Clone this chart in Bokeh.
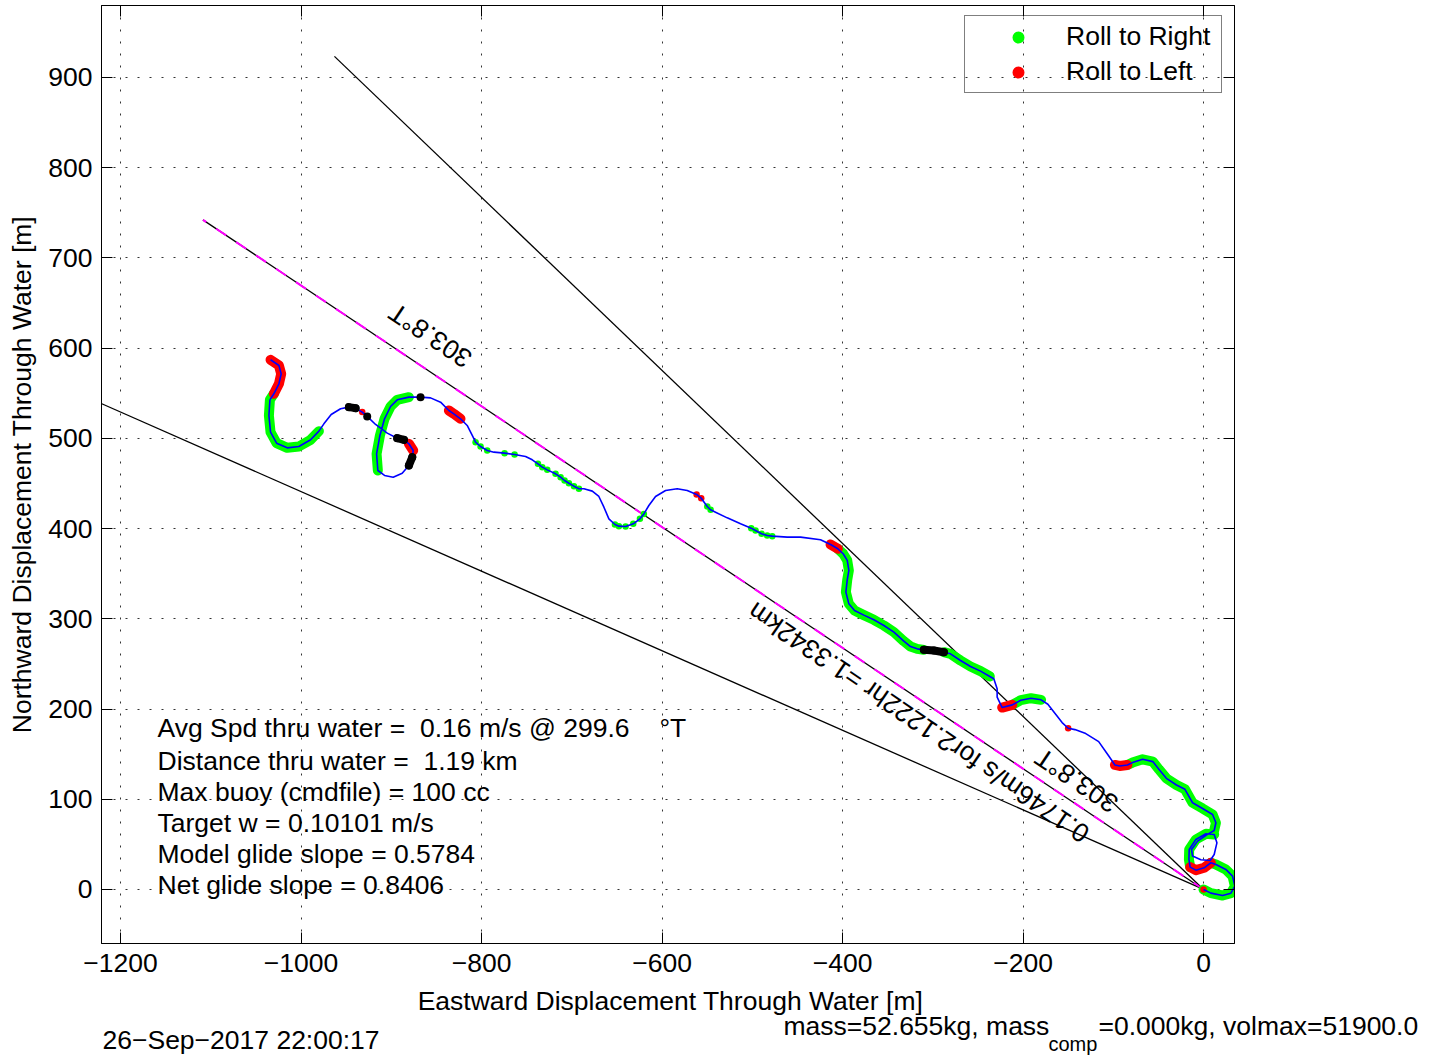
import numpy as np
from bokeh.plotting import figure
from bokeh.layouts import column
from bokeh.models import (Range1d, FixedTicker, LinearAxis, Label, Legend, LegendItem)
from bokeh.embed import file_html
from bokeh.resources import INLINE

FONT = "Liberation Sans"
FS = "26.5px"

# ---------------- data (metres, origin = dive start) ----------------
x_ticks = [-1200, -1000, -800, -600, -400, -200, 0]
x_tick_labels = ["\u22121200", "\u22121000", "\u2212800", "\u2212600", "\u2212400", "\u2212200", "0"]
y_ticks = [0, 100, 200, 300, 400, 500, 600, 700, 800, 900]
y_tick_labels = ["0", "100", "200", "300", "400", "500", "600", "700", "800", "900"]

track_x = [
    0, 8.1, 21.1, 30.3, 34.7, 32.1, 24.7, 13.7, 8.1, 0.7,
    -8.5, -14.8, -16.2, -15.9, -8.5, 2.6, 11.8, 14.8, 11.8, 7.4,
    -3.0, -12.2, -13.3, -6.6, 4.4, 11.8, 13.7, 10.0, -1.1, -12.2,
    -20.6, -30.0, -41.2, -49.5, -56.2, -67.5, -78.7, -84.4, -93.0, -98.2,
    -105.0, -116.2, -130.5, -142.5, -150.0, -156.7, -172.5, -180.0, -191.2, -202.5,
    -211.9, -223.1, -228.7, -228.7, -232.4, -236.8, -247.1, -258.2, -269.3, -280.4,
    -287.7, -298.8, -309.9, -317.3, -324.7, -332.1, -343.1, -354.2, -365.3, -376.4,
    -386.7, -393.0, -396.3, -394.8, -393.0, -394.8, -399.3, -405.2, -413.3, -424.4,
    -446.5, -461.3, -477.9, -483.5, -489.7, -496.4, -501.2, -513.0, -527.8, -540.7,
    -546.2, -549.9, -556.6, -561.7, -572.1, -583.2, -596.1, -607.2, -614.6, -620.1,
    -624.5, -631.9, -640.4, -647.8, -652.2, -658.9, -664.4, -670.0, -677.3, -686.6,
    -692.1, -697.6, -703.2, -708.0, -712.4, -718.0, -727.2, -732.7, -737.5, -743.8,
    -751.2, -763.4, -774.5, -786.3, -793.7, -801.1, -806.6, -810.3, -815.9, -823.3,
    -830.7, -836.2, -845.4, -856.5, -867.6, -880.5, -893.4, -900.8, -907.5, -912.6,
    -916.3, -914.9, -907.5, -897.9, -887.9, -880.5, -876.8, -875.7, -880.5, -886.0,
    -893.4, -904.5, -917.4, -926.7, -932.2, -939.6, -947.0, -956.2, -966.6, -974.7,
    -980.2, -989.4, -1002.4, -1015.3, -1027.1, -1033.8, -1035.6, -1034.5, -1030.1, -1024.5,
    -1022.0, -1024.5, -1033.8,
]
track_y = [
    0, -4.1, -6.7, -4.1, 3.7, 14.8, 22.2, 27.7, 29.6, 24.0,
    21.4, 24.8, 33.3, 44.3, 55.4, 61.7, 61.0, 51.7, 38.8, 32.1,
    32.9, 37.0, 44.3, 53.6, 61.0, 65.4, 73.9, 83.1, 89.8, 96.1,
    111.0, 115.8, 123.2, 133.2, 141.7, 144.3, 140.6, 138.0, 136.9, 138.0,
    148.0, 163.9, 172.8, 177.2, 178.7, 185.0, 205.3, 210.2, 212.0, 209.8,
    204.6, 201.6, 213.2, 222.4, 233.5, 236.1, 242.0, 247.2, 253.8, 261.2,
    263.0, 264.9, 265.6, 266.7, 269.3, 275.2, 285.2, 292.6, 298.9, 304.1,
    309.2, 316.6, 329.6, 343.2, 353.6, 364.7, 372.1, 377.6, 382.4, 387.6,
    390.5, 390.5, 391.6, 392.3, 394.2, 397.9, 400.5, 405.3, 411.9, 418.2,
    420.8, 424.5, 433.7, 437.8, 442.2, 444.1, 442.2, 435.6, 425.6, 416.3,
    410.8, 405.3, 402.3, 402.7, 404.5, 410.8, 423.7, 435.6, 441.5, 444.1,
    444.1, 447.0, 450.3, 453.3, 457.0, 460.7, 465.1, 468.1, 471.8, 476.2,
    479.9, 482.1, 483.6, 484.7, 486.6, 491.0, 495.8, 503.2, 514.3, 521.7,
    527.2, 530.9, 540.1, 544.9, 545.7, 545.7, 542.7, 535.3, 521.7, 503.2,
    482.9, 464.4, 458.9, 457.0, 461.4, 470.0, 479.2, 486.6, 494.0, 498.4,
    500.2, 505.8, 515.4, 524.3, 529.1, 533.5, 534.6, 532.8, 526.5, 516.1,
    508.0, 498.4, 491.0, 489.5, 494.7, 506.9, 525.4, 542.7, 549.4, 560.5,
    571.5, 580.8, 587.1,
]
# R = roll to right, L = roll to left, K = other (black), N = none; lower case = isolated samples
roll = (
    "LRRRRRRRLL"
    "LLRRRRRNNN"
    "NNNNNRRRRR"
    "RRRRRRRLLL"
    "NNNNlNNRRR"
    "LLNNNRRRRR"
    "KKKRRRRRRR"
    "RRRRRRRLLN"
    "NNrrrrrNNN"
    "rrllNNNNNr"
    "rrrrrNNNNN"
    "rrrrrrrrrN"
    "NrrNrrrNNL"
    "LLNNkRRRRR"
    "RRNNNKKLLK"
    "KNNKLKKNNN"
    "RRRRRRRRLL"
    "LLL"
)

# heading lines (303.8 deg T +/- 10 deg, 1334.2 m long)
heading_end_x = [-1220.8, -1108.7, -963.0]
heading_end_y = [538.4, 742.2, 923.4]

info_lines = [
    "Avg Spd thru water = \u00a00.16 m/s @ 299.6",
    "Distance thru water = \u00a01.19 km",
    "Max buoy (cmdfile) = 100 cc",
    "Target w = 0.10101 m/s",
    "Model glide slope = 0.5784",
    "Net glide slope = 0.8406",
]
info_y = [178.5, 141.9, 107.5, 73.2, 38.8, 4.4]

# ---------------- main figure ----------------
p = figure(width=1435, height=985,
           x_range=Range1d(-1221.1, 34.3), y_range=Range1d(-59.9, 979.8),
           output_backend="svg", toolbar_location=None,
           min_border_left=101, min_border_right=201, min_border_top=5, min_border_bottom=42)
p.frame_align = False
p.background_fill_color = "white"
p.border_fill_color = "white"
p.outline_line_color = "black"
p.outline_line_width = 1

xax = p.below[0]
yax = p.left[0]
xax.ticker = FixedTicker(ticks=x_ticks)
yax.ticker = FixedTicker(ticks=y_ticks)
xax.major_label_overrides = {t: l for t, l in zip(x_ticks, x_tick_labels)}
yax.major_label_overrides = {t: l for t, l in zip(y_ticks, y_tick_labels)}
yax.axis_label = "Northward Displacement Through Water [m]"
for ax in (xax, yax):
    ax.major_label_text_font = FONT
    ax.major_label_text_font_size = FS
    ax.major_label_text_color = "black"
    ax.axis_label_text_font = FONT
    ax.axis_label_text_font_size = FS
    ax.axis_label_text_font_style = "normal"
    ax.axis_label_text_color = "black"
    ax.major_tick_in = 11
    ax.major_tick_out = 0
    ax.minor_tick_line_color = None
    ax.axis_line_color = "black"
    ax.major_tick_line_color = "black"
xax.major_label_standoff = 10
yax.major_label_standoff = 9
yax.axis_label_standoff = 8

for side, ticks in (("right", y_ticks), ("above", x_ticks)):
    a = LinearAxis(ticker=FixedTicker(ticks=ticks), major_label_text_font_size="1px",
                   major_label_text_color=None,
                   major_label_standoff=0, major_tick_in=11, major_tick_out=0,
                   minor_tick_line_color=None, axis_line_color="black",
                   major_tick_line_color="black")
    p.add_layout(a, side)

p.xgrid.ticker = FixedTicker(ticks=x_ticks)
p.ygrid.ticker = FixedTicker(ticks=y_ticks)
for g in (p.xgrid, p.ygrid):
    g.grid_line_color = "#333333"
    g.grid_line_width = 1
    g.grid_line_dash = "2 10"

# heading lines
p.multi_line(xs=[[0, ex] for ex in heading_end_x], ys=[[0, ey] for ey in heading_end_y],
             line_color="black", line_width=1.3)
p.line([0, heading_end_x[1]], [0, heading_end_y[1]], line_color="#ff00ff",
       line_width=2, line_dash="12 12")

# roll bands
tx = np.array(track_x)
ty = np.array(track_y)
lab = list(roll)
n = len(lab)


def bands(code, extend):
    xs, ys = [], []
    i = 0
    while i < n:
        if lab[i] == code:
            j = i
            while j + 1 < n and lab[j + 1] == code:
                j += 1
            s, e = i, j
            if extend:
                if s > 0 and lab[s - 1] in "LK":
                    s -= 1
                if e + 1 < n and lab[e + 1] in "LK":
                    e += 1
            if e > s:
                xs.append(list(tx[s:e + 1]))
                ys.append(list(ty[s:e + 1]))
            i = j + 1
        else:
            i += 1
    return xs, ys


gx, gy = bands("R", True)
p.multi_line(xs=gx, ys=gy, line_color="#00ff00", line_width=10, line_cap="round", line_join="round")
ix = [i for i in range(n) if lab[i] in "Rr"]
g_dots = p.scatter(tx[ix], ty[ix], size=6.5, marker="circle", fill_color="#00ff00", line_color=None)

rx, ry = bands("L", False)
p.multi_line(xs=rx, ys=ry, line_color="#ff0000", line_width=10, line_cap="round", line_join="round")
ix = [i for i in range(n) if lab[i] in "Ll"]
r_dots = p.scatter(tx[ix], ty[ix], size=6.5, marker="circle", fill_color="#ff0000", line_color=None)

p.line(tx, ty, line_color="#0000ff", line_width=1.6)

kx, ky = bands("K", False)
p.multi_line(xs=kx, ys=ky, line_color="black", line_width=8, line_cap="round", line_join="round")
ix = [i for i in range(n) if lab[i] in "Kk"]
p.scatter(tx[ix], ty[ix], size=8, marker="circle", fill_color="black", line_color=None)

# legend
leg = Legend(items=[LegendItem(label="Roll to Right", renderers=[g_dots]),
                    LegendItem(label="Roll to Left", renderers=[r_dots])],
             location=(863, 850), orientation="vertical", margin=0, padding=5, spacing=4,
             border_line_color="black", border_line_width=1.5,
             background_fill_alpha=0.0,
             glyph_width=96, glyph_height=30, label_height=30, label_width=150,
             label_standoff=0, label_text_font=FONT, label_text_font_size=FS,
             label_text_color="black", label_text_baseline="middle")
p.add_layout(leg)

# rotated labels along heading lines
for tx_, x_, y_, ang in (("303.8\u00b0T", -856.6, 614.0, 146.1),
                         ("0.1746m/s for2.1222hr =1.3342km", -315.8, 185.1, 145.8),
                         ("303.8\u00b0T", -140.7, 120.8, 146.1)):
    p.add_layout(Label(x=x_, y=y_, text=tx_, angle=ang, angle_units="deg",
                       text_align="center", text_baseline="middle",
                       text_font=FONT, text_font_size=FS, text_color="black"))

# info block
for t, yy in zip(info_lines, info_y):
    p.add_layout(Label(x=-1159.0, y=yy, text=t, text_align="left", text_baseline="middle",
                       text_font=FONT, text_font_size=FS, text_color="black"))
p.add_layout(Label(x=-602.8, y=info_y[0], text="\u00b0T", text_align="left", text_baseline="middle",
                   text_font=FONT, text_font_size=FS, text_color="black"))

# ---------------- footer strip (x axis title and run info) ----------------
f = figure(width=1435, height=74, x_range=Range1d(0, 1435), y_range=Range1d(1059, 985),
           output_backend="svg", toolbar_location=None,
           x_axis_location=None, y_axis_location=None,
           min_border_left=0, min_border_right=0, min_border_top=0, min_border_bottom=0)
f.frame_align = False
f.outline_line_color = None
f.background_fill_color = "white"
f.border_fill_color = "white"
f.xgrid.visible = False
f.ygrid.visible = False

footer = [
    ("Eastward Displacement Through Water [m]", 670, 1000, "center", FS),
    ("26\u2212Sep\u22122017 22:00:17", 102, 1039, "left", FS),
    ("mass=52.655kg, mass", 783, 1025, "left", FS),
    ("comp", 1048, 1043, "left", "20px"),
    ("=0.000kg, volmax=51900.0", 1098, 1025, "left", FS),
]
for t, x_, y_, al, fs in footer:
    f.add_layout(Label(x=x_, y=y_, text=t, text_align=al, text_baseline="middle",
                       text_font=FONT, text_font_size=fs, text_color="black"))

layout = column(p, f, spacing=0)
open("out.html", "w").write(file_html(layout, INLINE))
